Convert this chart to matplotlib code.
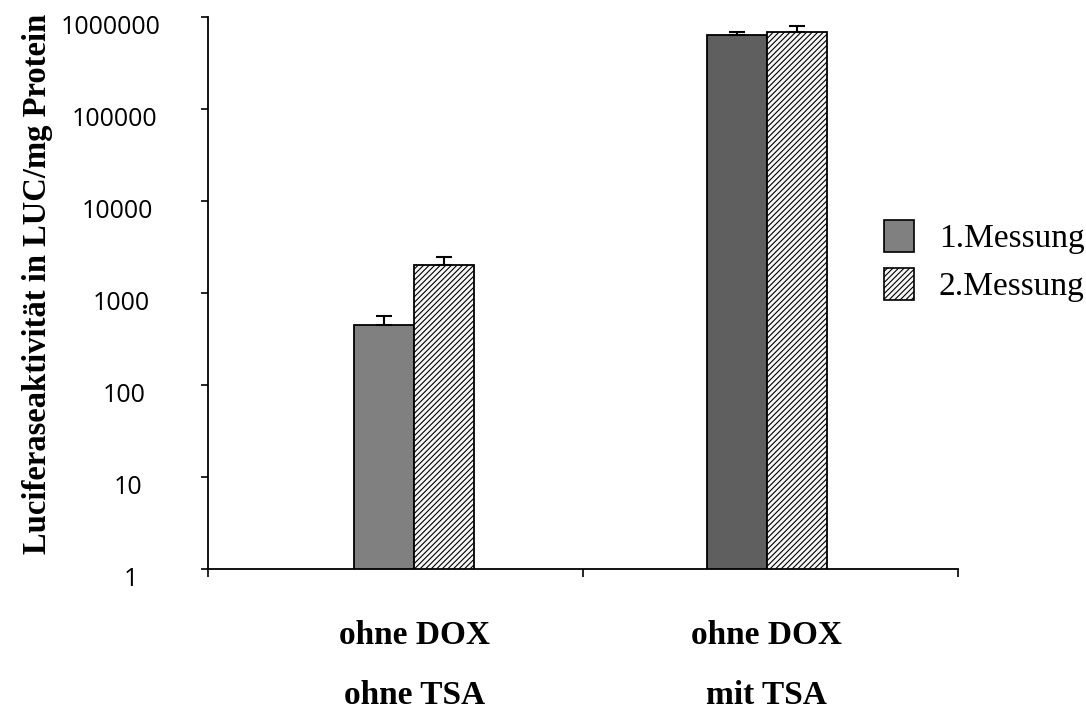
import numpy as np
import matplotlib
matplotlib.use("Agg")
import matplotlib.pyplot as plt
from matplotlib.patches import Patch
from matplotlib.transforms import blended_transform_factory, ScaledTranslation

# ---- data ----
groups_line1 = ["ohne DOX", "ohne DOX"]
groups_line2 = ["ohne TSA", "mit TSA"]
series_names = ["1.Messung", "2.Messung"]
mess1 = [450, 635000]
mess1_err = [110, 55000]
mess2 = [2000, 690000]
mess2_err = [450, 110000]
ytick_values = [1, 10, 100, 1000, 10000, 100000, 1000000]
ylabel = "Luciferaseaktivität in LUC/mg Protein"

plt.rcParams['hatch.linewidth'] = 0.8
plt.rcParams['hatch.color'] = '#a8a8a8'

# ---- layout ----
fig = plt.figure(figsize=(10.86, 7.11), dpi=100)
ax = fig.add_axes([208/1086, 1-569/711, (958-208)/1086, (569-17)/711])

centers = np.array([0.55, 1.49])
w = 0.16
dark_colors = ["#808080", "#5f5f5f"]
hatch_face = "#f7f7f7"

ax.bar(centers - w/2, mess1, width=w, color=dark_colors, edgecolor="black", linewidth=1.3,
       yerr=[np.zeros(2), mess1_err], capsize=6,
       error_kw=dict(elinewidth=1.5, capthick=1.5, ecolor="black"), zorder=2)
ax.bar(centers + w/2, mess2, width=w, color=hatch_face, edgecolor="black", linewidth=1.3,
       hatch="//////", yerr=[np.zeros(2), mess2_err], capsize=6,
       error_kw=dict(elinewidth=1.5, capthick=1.5, ecolor="black"), zorder=2)

ax.set_yscale("log")
ax.set_ylim(1, 1000000)
ax.set_xlim(0, 2)
ax.set_yticks(ytick_values)
labels = [str(v) for v in ytick_values]
ax.set_yticklabels(labels, fontsize=18, family="Open Sans")
ax.yaxis.set_minor_locator(matplotlib.ticker.NullLocator())
# label centre sits ~75 px left of the axis for "1", drifting 3.4 px left per extra digit
ax.tick_params(axis="y", direction="out", length=5, width=1.2, pad=(75 - 5) * 0.72)
for lab, txt in zip(ax.get_yticklabels(), labels):
    lab.set_horizontalalignment("center")
    dx = -(len(txt) - 1) * 3.4
    lab.set_transform(lab.get_transform() + ScaledTranslation(dx/100, -7/100, fig.dpi_scale_trans))
ax.set_xticks([0, 1, 2])
ax.set_xticklabels([])
ax.tick_params(axis="x", direction="out", length=6, width=1.2)

for s in ["top", "right"]:
    ax.spines[s].set_visible(False)
for s in ["left", "bottom"]:
    ax.spines[s].set_linewidth(1.3)

trans = blended_transform_factory(ax.transData, fig.transFigure)
for c, l1, l2 in zip(centers, groups_line1, groups_line2):
    ax.text(c, 1-636/711, l1, transform=trans, ha="center", va="center",
            fontsize=24, fontweight="bold", family="Liberation Serif")
    ax.text(c, 1-695/711, l2, transform=trans, ha="center", va="center",
            fontsize=24, fontweight="bold", family="Liberation Serif")

fig.text(38/1086, 1-284/711, ylabel, rotation=90, ha="center", va="center",
         fontsize=23.5, fontweight="bold", family="Liberation Serif")

handles = [Patch(facecolor="#808080", edgecolor="black", linewidth=1.2),
           Patch(facecolor=hatch_face, edgecolor="black", linewidth=1.2, hatch="//////")]
fig.legend(handles, series_names, loc="upper left", bbox_to_anchor=(884/1086, 1-220/711),
           frameon=False, prop=dict(family="Liberation Serif", size=24),
           handlelength=0.9, handleheight=1.1, handletextpad=0.75,
           labelspacing=0.4, borderpad=0, borderaxespad=0)

fig.savefig("out.png", dpi=100)
